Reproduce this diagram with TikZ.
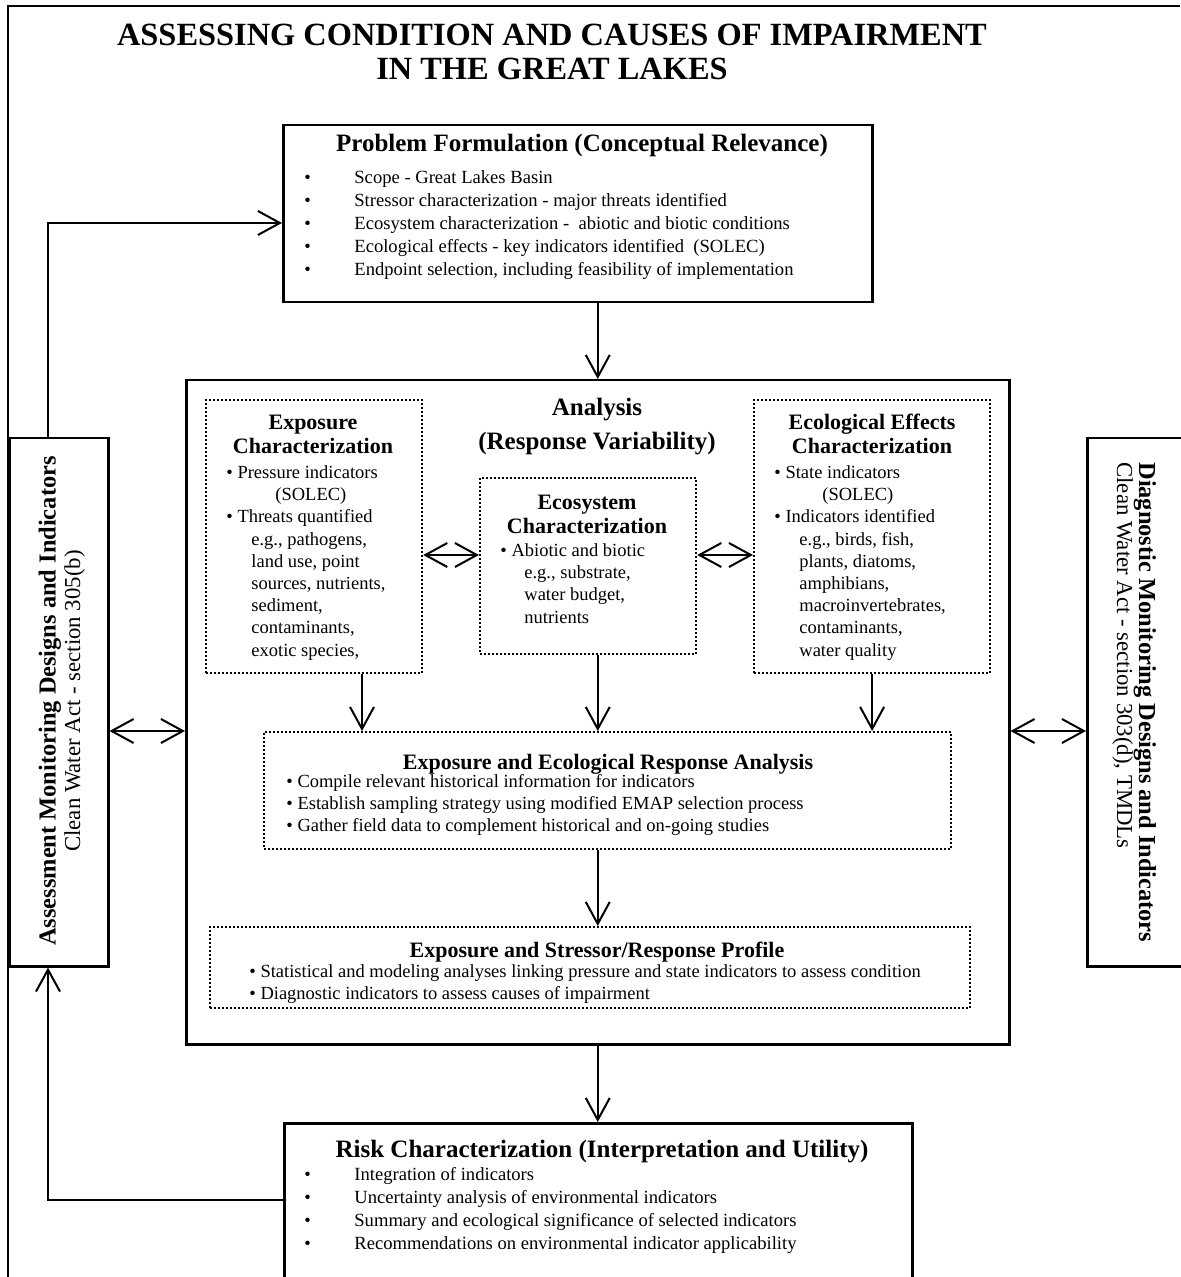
\documentclass[tikz,border=0pt]{standalone}
\usepackage{fontspec}
\setmainfont{Liberation Serif}
\usepackage{tikz}
\usetikzlibrary{arrows.meta}
\newcommand{\pbul}{\makebox[25pt][l]{\textbullet}}
\newcommand{\ind}{\hspace*{12.5pt}}

\begin{document}
\begin{tikzpicture}[x=0.5pt, y=-0.5pt,
    >={Straight Barb[length=11pt, width=12pt]},
    solidbox/.style={draw, line width=1.25pt, inner sep=0pt, anchor=north west},
    dotbox/.style={draw, line width=1.1pt, dash pattern=on 1pt off 1pt, inner sep=0pt, anchor=north west},
    conn/.style={line width=1pt},
    bigtitle/.style={font=\fontsize{12.5}{17}\selectfont\bfseries, align=center, anchor=base, inner sep=0pt},
    subtitle/.style={font=\fontsize{11}{12}\selectfont\bfseries, align=center, anchor=base, inner sep=0pt},
    bodytext/.style={font=\fontsize{9.25}{11.1}\selectfont, align=left, anchor=base west, inner sep=0pt}]

    % Page frame
    \useasboundingbox (0,0) rectangle (1180,1277);
    \draw[line width=0.65pt] (8,1277) -- (8,6) -- (1180,6);

    % Title (multi-line nodes sit on their last baseline)
    \node[font=\fontsize{16.2}{17}\selectfont\bfseries, align=center, anchor=base, inner sep=0pt] (title) at (552,80) {ASSESSING CONDITION AND CAUSES OF IMPAIRMENT\\IN THE GREAT LAKES};

    % Problem formulation
    \node[solidbox, minimum width=294.5pt, minimum height=88.5pt] (prob) at (282,124) {};
    \node[bigtitle] (probtitle) at (582,152) {Problem Formulation (Conceptual Relevance)};
    \node[bodytext, font=\fontsize{9.3}{11.6}\selectfont] (problist) at (304,276) {\pbul Scope - Great Lakes Basin\\
        \pbul Stressor characterization - major threats identified\\
        \pbul Ecosystem characterization - \ abiotic and biotic conditions\\
        \pbul Ecological effects - key indicators identified \ (SOLEC)\\
        \pbul Endpoint selection, including feasibility of implementation};

    % Analysis
    \node[solidbox, minimum width=411.5pt, minimum height=332pt] (ana) at (185,379) {};
    \node[bigtitle] (anatitle) at (597,450) {Analysis\\(Response Variability)};

    \node[dotbox, minimum width=108pt, minimum height=136.5pt] (expo) at (205,399) {};
    \node[subtitle] (expotitle) at (313,454) {Exposure\\Characterization};
    \node[bodytext] (expolist) at (226,656) {\textbullet\ Pressure indicators\\
        \hspace*{24.5pt}(SOLEC)\\
        \textbullet\ Threats quantified\\
        \ind e.g., pathogens,\\
        \ind land use, point\\
        \ind sources, nutrients,\\
        \ind sediment,\\
        \ind contaminants,\\
        \ind exotic species,};

    \node[dotbox, minimum width=108pt, minimum height=88pt] (eco) at (479,477) {};
    \node[subtitle] (ecotitle) at (587,533) {Ecosystem\\Characterization};
    \node[bodytext] (ecolist) at (500,623) {\textbullet\ Abiotic and biotic\\
        \hspace*{12pt}e.g., substrate,\\
        \hspace*{12pt}water budget,\\
        \hspace*{12pt}nutrients};

    \node[dotbox, minimum width=118pt, minimum height=136.5pt] (ecol) at (753,399) {};
    \node[subtitle] (ecoltitle) at (872,454) {Ecological Effects\\Characterization};
    \node[bodytext] (ecollist) at (774,656) {\textbullet\ State indicators\\
        \hspace*{24pt}(SOLEC)\\
        \textbullet\ Indicators identified\\
        \ind e.g., birds, fish,\\
        \ind plants, diatoms,\\
        \ind amphibians,\\
        \ind macroinvertebrates,\\
        \ind contaminants,\\
        \ind water quality};

    \node[dotbox, minimum width=343.5pt, minimum height=58.5pt] (resp) at (263,731) {};
    \node[subtitle] (resptitle) at (608,769) {Exposure and Ecological Response Analysis};
    \node[bodytext, font=\fontsize{9.25}{10.8}\selectfont] (resplist) at (286,831) {\textbullet\ Compile relevant historical information for indicators\\
        \textbullet\ Establish sampling strategy using modified EMAP selection process\\
        \textbullet\ Gather field data to complement historical and on-going studies};

    \node[dotbox, minimum width=380pt, minimum height=40.5pt] (prof) at (209,926) {};
    \node[subtitle] (proftitle) at (597,957) {Exposure and Stressor/Response Profile};
    \node[bodytext, font=\fontsize{9.25}{10.8}\selectfont] (proflist) at (249,999) {\textbullet\ Statistical and modeling analyses linking pressure and state indicators to assess condition\\
        \textbullet\ Diagnostic indicators to assess causes of impairment};

    % Risk characterization
    \node[solidbox, minimum width=314pt, minimum height=95pt] (risk) at (283,1122) {};
    \node[bigtitle] (risktitle) at (602,1157) {Risk Characterization (Interpretation and Utility)};
    \node[bodytext, font=\fontsize{9.3}{11.5}\selectfont] (risklist) at (304,1249) {\pbul Integration of indicators\\
        \pbul Uncertainty analysis of environmental indicators\\
        \pbul Summary and ecological significance of selected indicators\\
        \pbul Recommendations on environmental indicator applicability};

    % Side boxes
    \node[solidbox, minimum width=49.5pt, minimum height=264pt] (assess) at (8,437) {};
    \node[font=\fontsize{11.4}{12.25}\selectfont, align=center, anchor=base, inner sep=0pt, rotate=90] (assesstext) at (80,701) {{\fontsize{12.2}{12.25}\selectfont\bfseries Assessment Monitoring Designs and Indicators}\\Clean Water Act - section 305(b)};

    \node[solidbox, minimum width=57pt, minimum height=264pt] (diag) at (1086,437) {};
    \node[font=\fontsize{11.4}{11}\selectfont, align=left, anchor=base west, inner sep=0pt, rotate=-90] (diagtext) at (1117,462) {{\fontsize{12.2}{11}\selectfont\bfseries Diagnostic Monitoring Designs and Indicators}\\Clean Water Act - section 303(d), TMDLs};

    % Connectors
    \coordinate (loopleft) at (48,223);
    \coordinate (loopbottom) at (48,1200);
    \coordinate (siderow) at (0,731);
    \coordinate (innerrow) at (0,555);
    \coordinate (expodrop) at (362,0);

    \draw[conn,->] (loopleft |- assess.north) -- (loopleft) -- (loopleft -| prob.west);
    \draw[conn,->] (risk.west |- loopbottom) -- (loopbottom) -- (loopbottom |- assess.south);
    \draw[conn,->] (ana.north |- prob.south) -- (ana.north);
    \draw[conn,->] (ana.south) -- (ana.south |- risk.north);
    \draw[conn,<->] (assess.east |- siderow) -- (ana.west |- siderow);
    \draw[conn,<->] (ana.east |- siderow) -- (diag.west |- siderow);
    \draw[conn,<->] (expo.east |- innerrow) -- (eco.west |- innerrow);
    \draw[conn,<->] (eco.east |- innerrow) -- (ecol.west |- innerrow);
    \draw[conn,->] (expo.south -| expodrop) -- (resp.north -| expodrop);
    \draw[conn,->] (eco.south -| ana.north) -- (resp.north -| ana.north);
    \draw[conn,->] (ecol.south) -- (ecol.south |- resp.north);
    \draw[conn,->] (resp.south -| ana.north) -- (prof.north -| ana.north);
\end{tikzpicture}
\end{document}
